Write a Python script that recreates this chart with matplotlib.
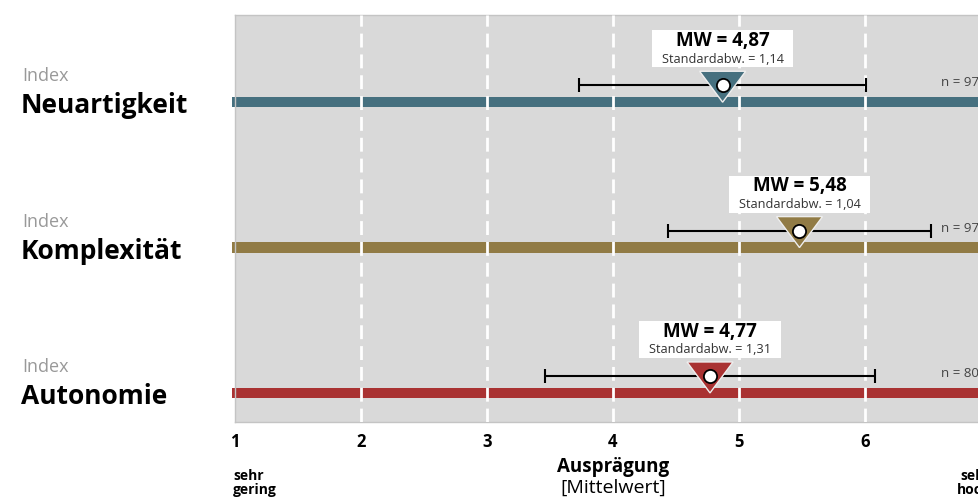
import matplotlib
matplotlib.use("Agg")
import matplotlib.pyplot as plt
from matplotlib.patches import Polygon, Rectangle
from matplotlib.transforms import blended_transform_factory

plt.rcParams['font.family'] = ['Open Sans', 'DejaVu Sans']

# Daten
indizes = ["Neuartigkeit", "Komplexität", "Autonomie"]
mittelwerte = [4.87, 5.48, 4.77]
standardabw = [1.14, 1.04, 1.31]
n_werte = ["n = 97", "n = 97", "n = 80"]
farben = ["#46707F", "#917B45", "#A93232"]
ticks = [1, 2, 3, 4, 5, 6]

def fmt(v):
    return f"{v:.2f}".replace(".", ",")

fig = plt.figure(figsize=(9.79, 4.98), dpi=100)
W, H = 979, 498
ax = fig.add_axes([235 / W, (H - 422) / H, 756 / W, 407 / H])
ax.set_facecolor("#D9D9D9")
ax.set_xlim(1, 7)
ax.set_ylim(-0.2, 2.6)
for s in ax.spines.values():
    s.set_color("#C4C4C4")
    s.set_linewidth(1)
ax.set_yticks([])
ax.set_xticks(ticks)
ax.set_xticklabels([str(t) for t in ticks], fontsize=12, fontweight="bold")
ax.tick_params(axis="x", length=0, pad=8)

for t in [2, 3, 4, 5, 6, 7]:
    ax.axvline(t, color="white", lw=2, dashes=(5, 2.5), zorder=3)

pos = [2, 1, 0]
tr_lab = blended_transform_factory(fig.transFigure, ax.transData)
for name, m, sd, n, c, y in zip(indizes, mittelwerte, standardabw, n_werte, farben, pos):
    # Band
    ax.barh(y, 6.1, left=0.98, height=0.07, color=c, zorder=2, clip_on=False)
    # Standardabweichung
    ye = y + 0.117
    ax.errorbar(m, ye, xerr=sd, fmt="none", ecolor="black", elinewidth=1.5,
                capsize=5, capthick=1.5, zorder=4)
    # Dreieck
    tri = Polygon([(m - 0.183, y + 0.213), (m + 0.183, y + 0.213), (m, y)],
                  closed=True, facecolor=c, edgecolor="#EEEEEE", lw=1, zorder=5)
    ax.add_patch(tri)
    ax.plot(m, ye, "o", ms=9.5, mfc="white", mec="black", mew=1.3, zorder=6)
    # Beschriftungsbox
    ax.add_patch(Rectangle((m - 0.56, y + 0.24), 1.12, 0.255, facecolor="white",
                           edgecolor="none", zorder=5))
    ax.annotate(f"MW = {fmt(m)}", (m, y), xytext=(0, 44), textcoords="offset points",
                ha="center", va="center", fontsize=13.5, fontweight="bold", zorder=7)
    ax.annotate(f"Standardabw. = {fmt(sd)}", (m, y), xytext=(0, 31),
                textcoords="offset points", ha="center", va="center", fontsize=9.2,
                color="#333333", zorder=7)
    # n
    ax.annotate(n, (6.6, y), xytext=(0, 14), textcoords="offset points",
                ha="left", va="center", fontsize=9.5, color="#444444", zorder=7)
    # Linke Beschriftung
    ax.annotate("Index", (22 / W, y), xycoords=tr_lab, xytext=(0, 15),
                textcoords="offset points", ha="left", va="baseline",
                fontsize=13, color="#999999", annotation_clip=False)
    ax.annotate(name, (21 / W, y), xycoords=tr_lab, xytext=(0, -8),
                textcoords="offset points", ha="left", va="baseline",
                fontsize=19, fontweight="bold", color="black", annotation_clip=False)

tr_x = blended_transform_factory(ax.transData, fig.transFigure)
ax.text(0.985, (H - 483) / H, "sehr\ngering", transform=tr_x, ha="left", va="center",
        fontsize=10, fontweight="bold", linespacing=0.95)
ax.text(7, (H - 483) / H, "sehr\nhoch", transform=tr_x, ha="right", va="center",
        multialignment="right", fontsize=10, fontweight="bold", linespacing=0.95)
ax.text(4, (H - 467) / H, "Ausprägung", transform=tr_x, ha="center", va="center",
        fontsize=13.5, fontweight="bold")
ax.text(4, (H - 488) / H, "[Mittelwert]", transform=tr_x, ha="center", va="center",
        fontsize=14)

fig.savefig("out.png", dpi=100)
